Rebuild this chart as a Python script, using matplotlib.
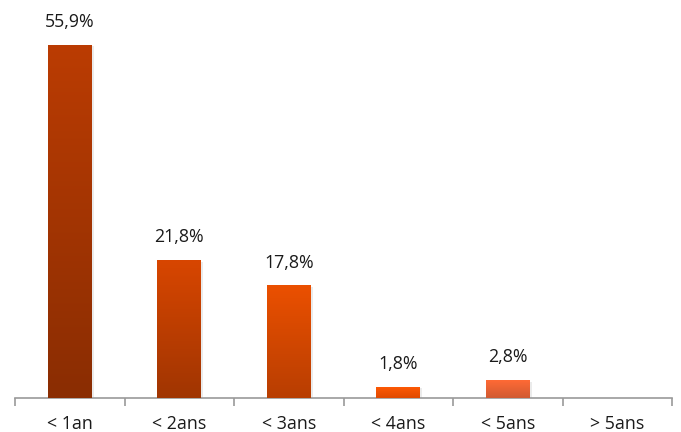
import numpy as np
import matplotlib.pyplot as plt
from matplotlib.colors import LinearSegmentedColormap

plt.rcParams['font.family'] = ['Open Sans', 'DejaVu Sans']

categories = ['< 1an', '< 2ans', '< 3ans', '< 4ans', '< 5ans', '> 5ans']
values = [55.9, 21.8, 17.8, 1.8, 2.8, 0.0]
labels = ['55,9%', '21,8%', '17,8%', '1,8%', '2,8%', '']
# (top colour, bottom colour) for each bar's gradient
bar_colors = [('#BB3C02', '#8A2D02'), ('#D84600', '#A03502'), ('#EB5000', '#B83E02'),
              ('#FF5A05', '#E04A00'), ('#FF6A35', '#D05A32'), ('#FF6A35', '#D05A32')]

fig = plt.figure(figsize=(6.81, 4.32), dpi=100)
ax = fig.add_axes([0.022, 0.079, 0.965, 0.921])

x = np.arange(len(categories))
width = 0.40
ax.set_xlim(-0.5, len(categories) - 0.5)
ax.set_ylim(0, 63.0)

grad = np.linspace(1, 0, 256).reshape(-1, 1)
for xi, v, (ctop, cbot) in zip(x, values, bar_colors):
    if v <= 0:
        continue
    # soft shadow
    ax.bar(xi + 0.02, v, width, bottom=-0.25, color='#000000', alpha=0.08, zorder=1)
    bar = ax.bar(xi, v, width, color=ctop, zorder=2)[0]
    cmap = LinearSegmentedColormap.from_list('g', [cbot, ctop])
    im = ax.imshow(grad, cmap=cmap, aspect='auto', zorder=3,
                   extent=[xi - width / 2, xi + width / 2, 0, v], origin='upper')
    im.set_clip_path(bar)

for xi, v, lab in zip(x, values, labels):
    if lab:
        ax.text(xi, v + 2.2, lab, ha='center', va='bottom', fontsize=12.8, color='#1a1a1a')

for s in ['top', 'right', 'left']:
    ax.spines[s].set_visible(False)
ax.spines['bottom'].set_color('#9a9a9a')
ax.spines['bottom'].set_linewidth(1.2)
ax.set_yticks([])

ax.set_xticks(x)
ax.set_xticklabels(categories, fontsize=12.8, color='#1a1a1a')
ax.tick_params(axis='x', which='major', length=0, pad=12)
ax.set_xticks(np.arange(-0.5, len(categories)), minor=True)
ax.tick_params(axis='x', which='minor', length=6, width=1.2, color='#9a9a9a', direction='out')

fig.savefig('out.png', dpi=100)
